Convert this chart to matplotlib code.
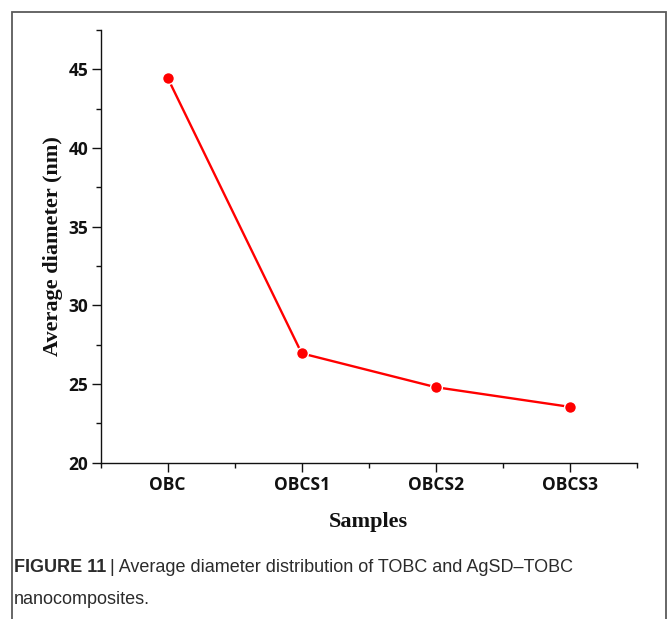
import matplotlib
matplotlib.use("Agg")
import matplotlib.pyplot as plt
from matplotlib.patches import Rectangle
from matplotlib.ticker import FixedLocator

categories = ["OBC", "OBCS1", "OBCS2", "OBCS3"]
diameters = [44.45, 26.95, 24.8, 23.55]
y_ticks = [20, 25, 30, 35, 40, 45]

W, H = 668, 619
fig = plt.figure(figsize=(W / 100, H / 100), dpi=100)
fig.patch.set_facecolor("white")

# outer frame
fig.patches.append(Rectangle((11.7 / W, -0.05), (666 - 11.7) / W, 1.05 - 11.7 / H,
                             transform=fig.transFigure, fill=False,
                             edgecolor="#5a5a5a", linewidth=1.3, clip_on=False))

ax = fig.add_axes([100.7 / W, 1 - 462.7 / H, 536 / W, (462.7 - 30) / H])
x = list(range(len(categories)))
ax.plot(x, diameters, color="#ff0000", linewidth=1.7, marker="o", markersize=8.5,
        markerfacecolor="#ff0000", markeredgecolor="white", markeredgewidth=1.0,
        clip_on=False, zorder=3)

ax.set_xlim(-0.5, 3.5)
ax.set_ylim(20, 47.5)
for s in ["top", "right"]:
    ax.spines[s].set_visible(False)
for s in ["left", "bottom"]:
    ax.spines[s].set_linewidth(1.0)
    ax.spines[s].set_color("#111111")

ax.set_xticks(x)
ax.set_xticklabels(categories)
ax.xaxis.set_minor_locator(FixedLocator([-0.5, 0.5, 1.5, 2.5, 3.5]))
ax.set_yticks(y_ticks)
ax.yaxis.set_minor_locator(FixedLocator([22.5, 27.5, 32.5, 37.5, 42.5, 47.5]))

ax.tick_params(axis="both", which="major", direction="out", length=6.5, width=1.0,
               color="#111111", pad=2.5)
ax.tick_params(axis="both", which="minor", direction="out", length=3.5, width=1.0,
               color="#111111")
ax.tick_params(axis="x", which="major", pad=3)
for lab in ax.get_xticklabels() + ax.get_yticklabels():
    lab.set_fontfamily("Open Sans")
    lab.set_fontweight("bold")
    lab.set_fontsize(12.5)
    lab.set_color("#111111")

ax.set_ylabel("Average diameter (nm)", fontfamily="Liberation Serif", fontweight="bold",
              fontsize=16, color="#111111", labelpad=4)
ax.set_xlabel("Samples", fontfamily="Liberation Serif", fontweight="bold",
              fontsize=16, color="#111111", labelpad=13)

cap_size = 13
t1 = fig.text(14 / W, 1 - 572 / H, "FIGURE 11", fontfamily="Liberation Sans",
              fontweight="bold", fontsize=cap_size, color="#2b2b2b", va="baseline")
fig.canvas.draw()
bb = t1.get_window_extent()
fig.text((bb.x1 + 4) / W, 1 - 572 / H,
         "| Average diameter distribution of TOBC and AgSD\u2013TOBC",
         fontfamily="Liberation Sans", fontsize=cap_size, color="#2b2b2b", va="baseline")
fig.text(14 / W, 1 - 604 / H, "nanocomposites.", fontfamily="Liberation Sans",
         fontsize=cap_size, color="#2b2b2b", va="baseline")

fig.savefig("out.png", dpi=100, facecolor="white")
